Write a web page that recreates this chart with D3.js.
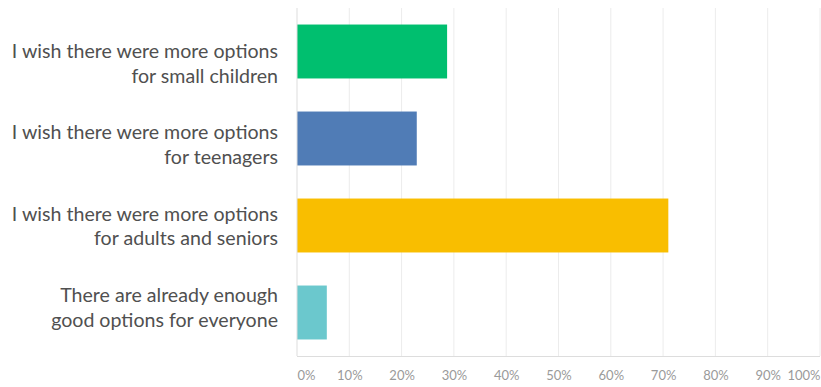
<!DOCTYPE html>
<html>
<head>
<meta charset="utf-8">
<script src="https://cdn.jsdelivr.net/npm/d3@7"></script>
<style>
  html, body { margin: 0; padding: 0; background: #fff; }
  svg { display: block; }
</style>
</head>
<body>
<svg id="chart" width="821" height="387"></svg>
<script>
// Survey answers (multiple choice allowed), share of respondents in %
const categories = [
  ["I wish there were more options", "for small children"],
  ["I wish there were more options", "for teenagers"],
  ["I wish there were more options", "for adults and seniors"],
  ["There are already enough", "good options for everyone"]
];
const values = [28.7, 22.9, 71.0, 5.7];
const colors = ["#00bf6f", "#507cb6", "#f9be00", "#6bc8cd"];
const tickValues = [0, 10, 20, 30, 40, 50, 60, 70, 80, 90, 100];
const tickLabels = ["0%", "10%", "20%", "30%", "40%", "50%", "60%", "70%", "80%", "90%", "100%"];

const svg = d3.select("#chart");
const W = 821, H = 387;
const margin = { top: 8, right: 1, bottom: 31, left: 297 };

const x = d3.scaleLinear().domain([0, 100]).range([margin.left, W - margin.right]);
const y = d3.scaleBand()
  .domain(d3.range(categories.length))
  .range([margin.top, H - margin.bottom])
  .paddingInner(0.38)
  .paddingOuter(0.19);

// baseline of the first line of each category label
const labelY = d3.scalePoint()
  .domain(d3.range(categories.length))
  .range([58, 302]);
const lineGap = 24.5;

// vertical gridlines
svg.append("g")
  .selectAll("line")
  .data(tickValues.slice(1))
  .join("line")
  .attr("x1", d => x(d)).attr("x2", d => x(d))
  .attr("y1", margin.top).attr("y2", H - margin.bottom)
  .attr("stroke", "#ececec")
  .attr("stroke-width", 1);

// bars
svg.append("g")
  .selectAll("rect")
  .data(values)
  .join("rect")
  .attr("x", x(0))
  .attr("y", (d, i) => y(i))
  .attr("width", d => x(d) - x(0))
  .attr("height", y.bandwidth())
  .attr("fill", (d, i) => colors[i]);

// axis lines
svg.append("line")
  .attr("x1", x(0)).attr("x2", x(0))
  .attr("y1", margin.top).attr("y2", H - margin.bottom)
  .attr("stroke", "#dddddd");
svg.append("line")
  .attr("x1", x(0)).attr("x2", x(100))
  .attr("y1", H - margin.bottom + 0.5).attr("y2", H - margin.bottom + 0.5)
  .attr("stroke", "#dddddd");

// bottom axis tick labels
const xAxis = d3.axisBottom(x)
  .tickValues(tickValues)
  .tickFormat((d, i) => tickLabels[i])
  .tickSize(0)
  .tickPadding(0);
const gx = svg.append("g")
  .attr("transform", `translate(0,${H - margin.bottom})`)
  .call(xAxis);
gx.select(".domain").remove();
gx.selectAll("text")
  .attr("y", 24)
  .attr("dy", 0)
  .attr("fill", "#9a9a9a")
  .style("font-family", "Lato, 'Open Sans', sans-serif")
  .style("font-size", "13px")
  .attr("text-anchor", (d, i) => i === 0 ? "start" : (i === tickValues.length - 1 ? "end" : "middle"));

// category labels, two lines each, right-aligned
const labels = svg.append("g")
  .selectAll("text")
  .data(categories)
  .join("text")
  .attr("text-anchor", "end")
  .attr("fill", "#505050")
  .style("font-family", "Lato, 'Open Sans', sans-serif")
  .style("font-size", "19.6px");
labels.selectAll("tspan")
  .data((d, i) => d.map((line, j) => ({ line, j, i })))
  .join("tspan")
  .attr("x", 278)
  .attr("y", d => labelY(d.i) + d.j * lineGap)
  .text(d => d.line);
</script>
</body>
</html>
